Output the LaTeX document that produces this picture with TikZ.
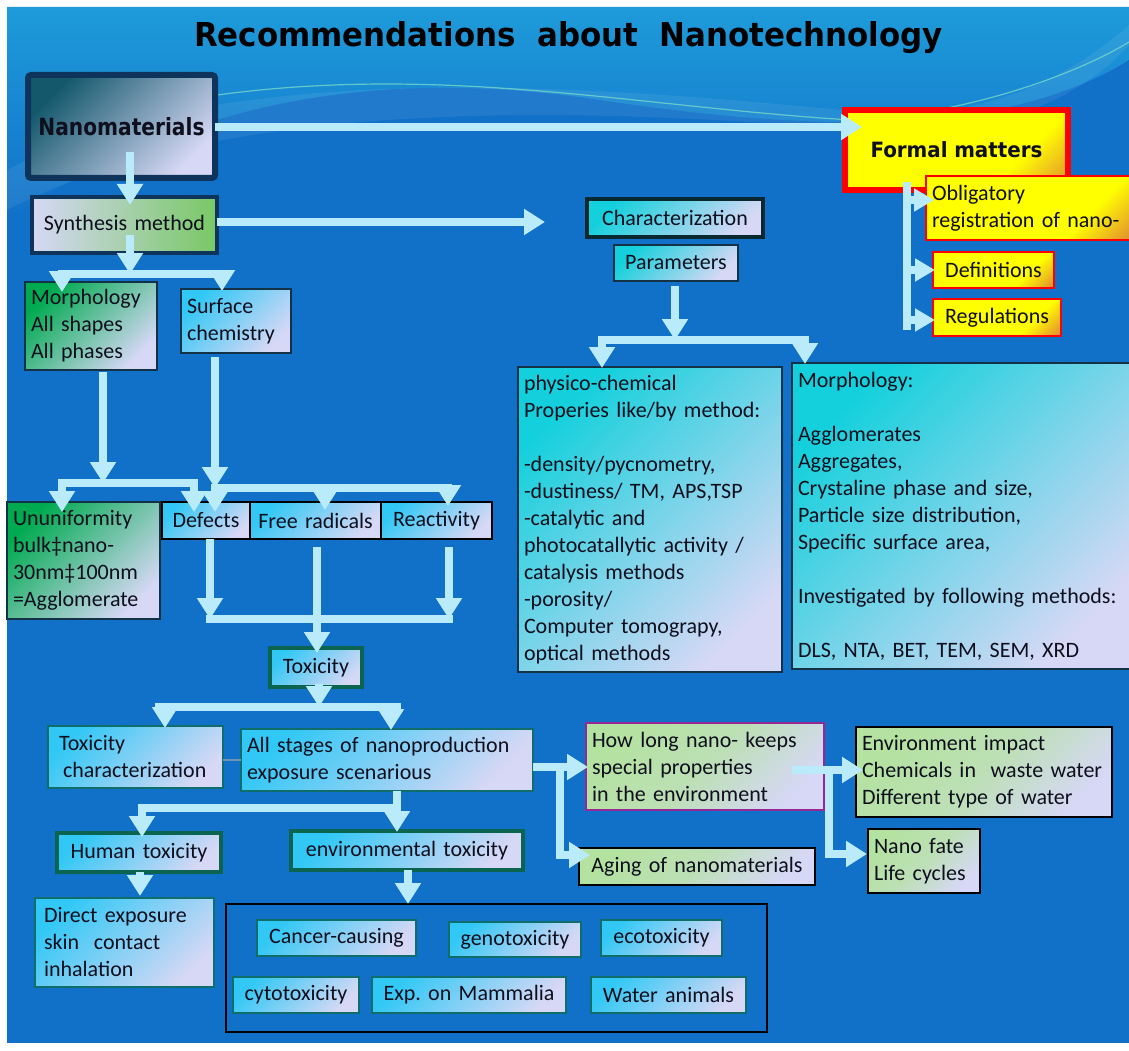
\documentclass[tikz,border=0pt]{standalone}
\usepackage{graphicx}
\usepackage{fontspec}
\setmainfont{Carlito}[WordSpace=0.8]
\newfontfamily\dv{DejaVu Sans}
\usetikzlibrary{arrows.meta,calc}
\frenchspacing
\definecolor{bg}{RGB}{17,112,200}
\definecolor{arrowc}{RGB}{185,235,250}
\definecolor{lav}{RGB}{214,216,245}
\definecolor{cyanA}{RGB}{50,200,245}
\definecolor{tealA}{RGB}{20,208,220}
\definecolor{greenA}{RGB}{0,170,80}
\definecolor{lgreen}{RGB}{180,226,160}
\definecolor{synG}{RGB}{120,200,100}
\definecolor{nanoD}{RGB}{20,88,108}
\definecolor{navy}{RGB}{14,52,92}
\definecolor{orangeA}{RGB}{228,150,45}
\definecolor{yel}{RGB}{255,255,0}
\definecolor{dkgreen}{RGB}{10,100,80}
\definecolor{dkteal}{RGB}{10,40,48}
\definecolor{bord}{RGB}{20,50,70}
\definecolor{tealb}{RGB}{15,110,105}
\definecolor{purpleb}{RGB}{150,40,150}
\definecolor{txt}{RGB}{15,15,30}
\definecolor{wavec}{RGB}{30,155,218}
\definecolor{wline}{RGB}{130,225,200}
\pgfdeclareverticalshading{yshade}{100bp}{color(0bp)=(orangeA); color(17bp)=(orangeA); color(33bp)=(yel); color(100bp)=(yel)}
\newcommand\bodyf{\fontsize{22}{27}\selectfont}
\newcommand\bx[7]{%
  \node[anchor=north west, inner ysep=0pt, #6, inner xsep=6pt,
    minimum height={\the\dimexpr #5pt-#3pt\relax},
    text width={\the\dimexpr #4pt-#2pt-12pt\relax}] (#1) at (#2,#3) {#7};}
\tikzset{
  every node/.style={outer sep=0pt, text=txt, font=\bodyf},
  bxl/.style={draw=#1, line width=1.3pt},
  bxk/.style={draw=#1, line width=4.5pt},
  sh/.style 2 args={top color=#1, bottom color=#2, shading angle=45},
  ysh/.style={shading=yshade, shading angle=45},
  gsh/.style={top color=lgreen, bottom color=lav, middle color=lgreen!75!lav, shading angle=45},
  shaft/.style={draw=arrowc, line width=8pt},
  arr/.style={shaft, -{Triangle[width=25pt,length=21pt]}},
  arrs/.style={shaft, -{Triangle[width=22pt,length=20pt]}},
  conn/.style={draw={rgb,255:red,110;green,150;blue,180}, line width=1.5pt},
}
\begin{document}
\begin{tikzpicture}[x=1pt,y=-1pt]
\useasboundingbox (0,0) rectangle (1129,1051);
\fill[white] (0,0) rectangle (1129,1051);
\fill[bg] (7,7) rectangle (1129,1043);
% background waves
\shade[top color=wavec, bottom color=bg] (7,7) -- (1129,7) -- (1129,60)
  .. controls (1000,140) and (800,130) .. (600,100)
  .. controls (400,70) and (200,90) .. (7,220) -- cycle;
\fill[white, opacity=.07] (7,170) .. controls (200,70) and (500,75) .. (860,112)
  .. controls (1000,125) and (1090,60) .. (1129,25) -- (1129,45)
  .. controls (1080,100) and (990,140) .. (860,130)
  .. controls (500,100) and (200,110) .. (7,210) -- cycle;
\draw[wline, line width=1.2pt, opacity=.7] (210,96) .. controls (450,62) and (650,110) .. (870,121);
\draw[wline, line width=1.2pt, opacity=.7] (870,119) .. controls (980,110) and (1080,72) .. (1129,42);
% title
\node[anchor=base, text=black] (title) at (568.5,47)
  {\resizebox{749pt}{25pt}{\dv\bfseries Recommendations\ \ about\ \ Nanotechnology}};
% left column
\bx{nano}{28}{75}{215}{178}{bxk=navy, line width=6pt, rounded corners=3pt, sh={nanoD}{lav}, align=center}{\resizebox{166pt}{18pt}{\dv\bfseries Nanomaterials}}
\bx{syn}{32}{197}{217}{253}{bxk=navy, left color=lav, right color=synG, align=center}{Synthesis method}
\bx{morph}{25}{282}{157}{370}{bxl=bord, sh={greenA}{lav}, align=left}{Morphology\\All shapes\\All phases}
\bx{surf}{181}{289}{291}{353}{bxl=bord, sh={cyanA}{lav}, align=left}{Surface\\chemistry}
% formal matters
\bx{formal}{845}{110}{1068}{190}{draw=red, line width=6pt, ysh, align=center}{\resizebox{172pt}{16pt}{\dv\bfseries Formal matters}}
\bx{oblig}{926}{176}{1134}{240}{draw=red, line width=1.2pt, ysh, align=left}{Obligatory\\registration of nano-}
\bx{defin}{933}{252}{1054}{288}{draw=red, line width=1.2pt, ysh, align=center}{Definitions}
\bx{regul}{933}{299}{1061}{336}{draw=red, line width=1.2pt, ysh, align=center}{Regulations}
% characterization
\bx{char}{587}{199}{763}{237}{bxk=dkteal, sh={tealA}{lav}, align=center}{Characterization}
\bx{param}{614}{245}{738}{281}{bxl=bord, sh={tealA}{lav}, align=center}{Parameters}
\bx{phys}{518}{367}{782}{672}{bxl=bord, sh={tealA}{lav}, align=left}{physico-chemical\\Properies like/by method:\\[27pt]-density/pycnometry,\\-dustiness/ TM, APS,TSP\\-catalytic and\\photocatallytic activity /\\catalysis methods\\-porosity/\\Computer tomograpy,\\optical methods}
\bx{morph2}{792}{363}{1134}{669}{bxl=bord, sh={tealA}{lav}, align=left}{Morphology:\\[27pt]Agglomerates\\Aggregates,\\Crystaline phase and size,\\Particle size distribution,\\Specific surface area,\\[27pt]Investigated by following methods:\\[27pt]DLS, NTA, BET, TEM, SEM, XRD}
% second row
\bx{unif}{7}{502}{160}{619}{bxl=bord, sh={greenA}{lav}, align=left}{Ununiformity\\bulk‡nano-\\30nm‡100nm\\=Agglomerate}
\bx{def}{162}{502}{250}{539}{bxl=black, sh={cyanA}{lav}, align=center}{Defects}
\bx{free}{250}{502}{381}{539}{bxl=black, sh={cyanA}{lav}, align=center}{Free radicals}
\bx{react}{381}{502}{492}{539}{bxl=black, sh={cyanA}{lav}, align=center}{Reactivity}
\bx{tox}{270}{648}{362}{687}{bxk=dkgreen, sh={cyanA}{lav}, align=center}{Toxicity}
\bx{toxc}{48}{726}{223}{788}{bxl=tealb, sh={cyanA}{lav}, align=left}{\hspace*{5pt}Toxicity\\\hspace*{9pt}characterization}
\bx{allst}{241}{729}{533}{791}{bxl=tealb, sh={cyanA}{lav}, align=left}{All stages of nanoproduction\\exposure scenarious}
\bx{human}{57}{833}{221}{872}{bxk=dkgreen, sh={cyanA}{lav}, align=center}{Human toxicity}
\bx{env}{291}{831}{523}{870}{bxk=dkgreen, sh={cyanA}{lav}, align=center}{environmental toxicity}
\bx{direct}{35}{898}{214}{987}{bxl=tealb, sh={cyanA}{lav}, align=left}{\hspace*{3pt}Direct exposure\\\hspace*{3pt}skin~ contact\\\hspace*{3pt}inhalation}
\bx{group}{226}{904}{767}{1032}{draw=black, line width=1.5pt}{}
\bx{cancer}{257}{920}{416}{956}{bxl=tealb, sh={cyanA}{lav}, align=center}{Cancer-causing}
\bx{geno}{449}{922}{581}{957}{bxl=tealb, sh={cyanA}{lav}, align=center}{genotoxicity}
\bx{eco}{601}{920}{722}{956}{bxl=tealb, sh={cyanA}{lav}, align=center}{ecotoxicity}
\bx{cyto}{233}{977}{359}{1013}{bxl=tealb, sh={cyanA}{lav}, align=center}{cytotoxicity}
\bx{mamm}{372}{977}{566}{1013}{bxl=tealb, sh={cyanA}{lav}, align=center}{Exp. on Mammalia}
\bx{water}{591}{977}{746}{1013}{bxl=tealb, sh={cyanA}{lav}, align=center}{Water animals}
\bx{howlong}{586}{723}{824}{810}{draw=purpleb, line width=1.2pt, gsh, align=left}{How long nano- keeps\\special properties\\in the environment}
\bx{aging}{579}{848}{815}{885}{bxl=black, gsh, align=center}{Aging of nanomaterials}
\bx{envimp}{856}{727}{1112}{817}{bxl=black, gsh, align=left}{Environment impact\\Chemicals in~ waste water\\Different type of water}
\bx{fate}{868}{829}{980}{893}{bxl=black, gsh, align=left}{Nano fate\\Life cycles}
% junction coordinates
\coordinate (j1) at (130,274); \coordinate (j1a) at (62,274); \coordinate (j1b) at (222,274);
\coordinate (j2) at (103,483); \coordinate (j2a) at (62,483); \coordinate (j2b) at (194,483);
\coordinate (j3) at (215,488); \coordinate (j3b) at (325,488); \coordinate (j3c) at (448,488);
\coordinate (j4a) at (210,619); \coordinate (j4c) at (449,619);
\coordinate (j5) at (319,707); \coordinate (j5a) at (165,707); \coordinate (j5b) at (391,707);
\coordinate (j6) at (397,808); \coordinate (j6a) at (142,808);
\coordinate (j7) at (560,767); \coordinate (j7b) at (560,855);
\coordinate (j8) at (829,770); \coordinate (j8b) at (829,854);
\coordinate (f1) at (907,200); \coordinate (f2) at (907,270); \coordinate (f3) at (907,320);
\coordinate (p0) at (675,340); \coordinate (pa) at (602,340); \coordinate (pb) at (805,340);
% connectors
\draw[arr] ($(nano.north west)+(102,77)$) -- ($(syn.north west)+(98,8)$);
\draw[arr] ($(nano.north west)+(187,52)$) -- ($(formal.north west)+(17,17)$);
\draw[arr] ($(syn.north west)+(185,25)$) -- ($(char.north west)+(-42,23)$);
\draw[shaft] ([xshift=-4pt]j1a) -- ([xshift=4pt]j1b);
\draw[arr] ($(syn.north west)+(98,38)$) -- (j1);
\draw[arr] (j1a) -- ($(morph.north west)+(37,10)$);
\draw[arr] (j1b) -- ($(surf.north west)+(41,2)$);
\draw[shaft] ([xshift=-4pt]j2a) -- ([xshift=4pt]j2b);
\draw[arr] ($(morph.north west)+(78,90)$) -- (j2);
\draw[arr] (j2a) -- ($(unif.north west)+(55,10)$);
\draw[arr] (j2b) -- ($(def.north west)+(32,10)$);
\draw[shaft] ([xshift=-4pt]j3) -- ([xshift=4pt]j3c);
\draw[arr] ($(surf.north west)+(34,68)$) -- (j3);
\draw[arr] (j3) -- ($(def.north west)+(53,10)$);
\draw[arr] (j3b) -- ($(free.north west)+(75,8)$);
\draw[arr] (j3c) -- ($(react.north west)+(67,4)$);
\draw[shaft] ([xshift=-4pt]j4a) -- ([xshift=4pt]j4c);
\draw[arr] ($(def.north west)+(48,37)$) -- (j4a);
\draw[arr] ($(react.north west)+(68,45)$) -- (j4c);
\draw[arr] ($(free.north west)+(67,45)$) -- ($(tox.north west)+(47,5)$);
\draw[shaft] ([xshift=-10pt]j5a) -- ([xshift=10pt]j5b);
\draw[arr] ($(tox.north west)+(49,36)$) -- (j5);
\draw[arr] (j5a) -- ($(toxc.north west)+(117,2)$);
\draw[arr] (j5b) -- ($(allst.north west)+(150,1)$);
\draw[conn] ($(toxc.north west)+(175,34)$) -- ($(allst.north west)+(0,31)$);
\draw[shaft] ([xshift=-4pt]j6a) -- (j6);
\draw[arr] ($(allst.north west)+(156,62)$) -- ($(env.north west)+(106,1)$);
\draw[arr] (j6a) -- ($(human.north west)+(85,4)$);
\draw[arr] ($(human.north west)+(83,39)$) -- ($(direct.north west)+(105,-2)$);
\draw[arr] ($(env.north west)+(117,39)$) -- ($(group.north west)+(182,0)$);
\draw[shaft] ($(allst.north west)+(292,38)$) -- (j7);
\draw[shaft] ([yshift=4pt]j7) -- ([yshift=-4pt]j7b);
\draw[arr] (j7) -- ($(howlong.north west)+(2,44)$);
\draw[arr] (j7b) -- ($(aging.north west)+(11,7)$);
\draw[arr] ($(howlong.north west)+(206,47)$) -- ($(envimp.north west)+(7,43)$);
\draw[shaft] ([yshift=4pt]j8) -- ([yshift=-4pt]j8b);
\draw[arr] (j8b) -- ($(fate.north west)+(-1,25)$);
\draw[shaft] ($(formal.north west)+(62,72)$) -- ([yshift=-10pt]f3);
\draw[arrs] (f1) -- ($(oblig.north west)+(8,24)$);
\draw[arrs] (f2) -- ($(defin.north west)+(2,18)$);
\draw[arrs] (f3) -- ($(regul.north west)+(2,21)$);
\draw[arr] ($(param.north west)+(61,41)$) -- (p0);
\draw[shaft] ([xshift=-4pt]pa) -- ([xshift=4pt]pb);
\draw[arr] (pa) -- ($(phys.north west)+(84,1)$);
\draw[arr] (pb) -- ($(morph2.north west)+(13,1)$);
\end{tikzpicture}
\end{document}
